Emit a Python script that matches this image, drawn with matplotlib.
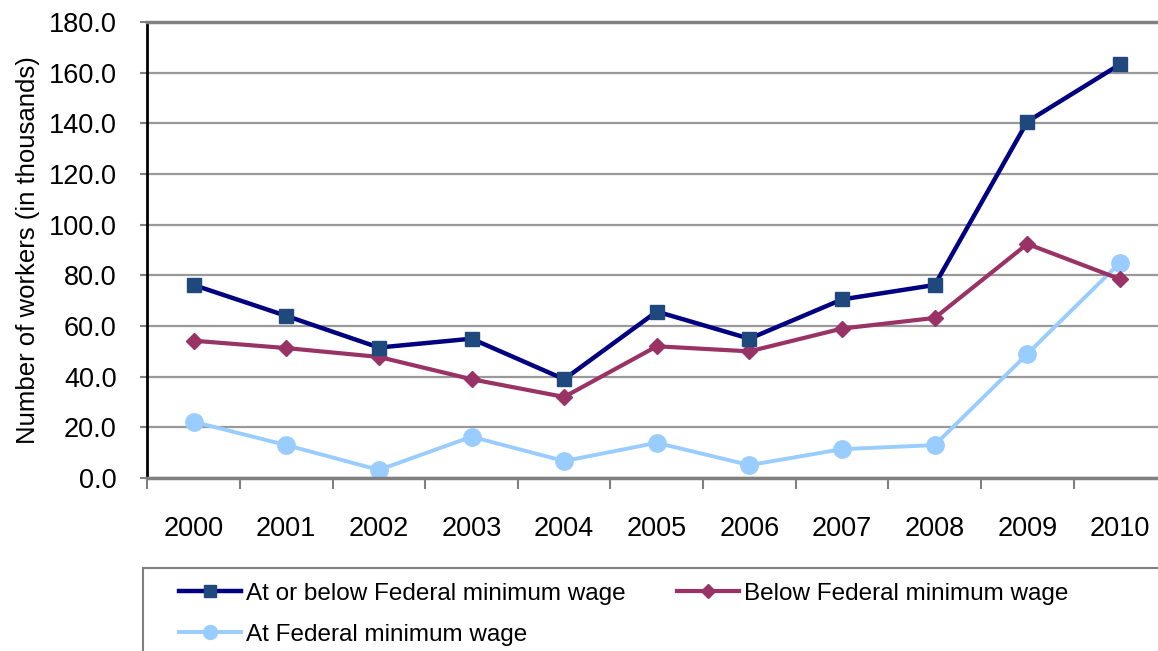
import numpy as np
import matplotlib
matplotlib.use('Agg')
import matplotlib.pyplot as plt
from matplotlib.patches import Rectangle

plt.rcParams['font.family'] = ['Liberation Sans', 'DejaVu Sans']

# data (thousands of workers)
years = ['2000', '2001', '2002', '2003', '2004', '2005', '2006', '2007', '2008', '2009', '2010']
at_or_below = [76.2, 64.0, 51.5, 55.0, 39.0, 65.7, 55.0, 70.5, 76.2, 140.7, 163.3]
below = [54.2, 51.3, 47.8, 39.0, 32.0, 52.0, 50.0, 59.0, 63.2, 92.4, 78.5]
at_min = [22.2, 13.0, 3.2, 16.3, 6.7, 13.9, 5.1, 11.4, 13.0, 49.0, 85.0]

y_ticks = np.arange(0, 181, 20)

fig = plt.figure(figsize=(11.58, 6.51), dpi=100)
# plot area runs past the right edge, like the cropped original
ax = fig.add_axes([0.1272, 0.2657, 0.880, 0.7005])

x = np.arange(len(years))
l1, = ax.plot(x, at_or_below, color='#000080', lw=3.2, marker='s', ms=10.5,
              mfc='#1F497D', mec='#1F497D', label='At or below Federal minimum wage', zorder=4)
l2, = ax.plot(x, below, color='#993366', lw=3, marker='D', ms=8.5,
              mfc='#993366', mec='#993366', label='Below Federal minimum wage', zorder=3)
l3, = ax.plot(x, at_min, color='#99CCFF', lw=2.8, marker='o', ms=12.5,
              mfc='#99CCFF', mec='#99CCFF', label='At Federal minimum wage', zorder=2)

ax.set_xlim(-0.5, len(years) - 0.5)
ax.set_ylim(0, 180)
ax.set_yticks(y_ticks)
ax.set_yticklabels(['%.1f' % v for v in y_ticks], fontsize=19.5)
ax.set_xticks(x)
ax.set_xticklabels(years, fontsize=19.5)
ax.set_xticks(np.arange(-0.5, len(years), 1), minor=True)
ax.tick_params(axis='x', which='major', length=0, pad=27)
ax.tick_params(axis='x', which='minor', length=8, width=1.5, color='#808080', direction='out')
ax.tick_params(axis='y', length=5, width=1.5, color='#808080', pad=17)

ax.yaxis.grid(True, color='#999999', lw=1.6)
ax.set_axisbelow(True)
ax.spines['left'].set_color('black')
ax.spines['left'].set_linewidth(2)
ax.spines['bottom'].set_color('#808080')
ax.spines['bottom'].set_linewidth(2.5)
ax.spines['top'].set_color('#808080')
ax.spines['top'].set_linewidth(2.5)
ax.spines['right'].set_visible(False)

ax.set_ylabel('Number of workers (in thousands)', fontsize=18.5, labelpad=6)

# legend box, also cut off at the right and bottom
fig.patches.append(Rectangle((143 / 1158, -0.1), 1.2, 0.1 + (651 - 568) / 651,
                             transform=fig.transFigure, fill=False,
                             edgecolor='#808080', lw=1.5))
# ncol fills by column, so order handles to read row by row
fig.legend([l1, l3, l2], [l1.get_label(), l3.get_label(), l2.get_label()],
           loc='upper left', bbox_to_anchor=(0.1465, 0.12), ncol=2, frameon=False,
           fontsize=17.5, handlelength=2.55, handletextpad=0.2, columnspacing=2.1,
           labelspacing=0.78, borderaxespad=0, markerscale=0.8)

fig.savefig('out.png', dpi=100)
